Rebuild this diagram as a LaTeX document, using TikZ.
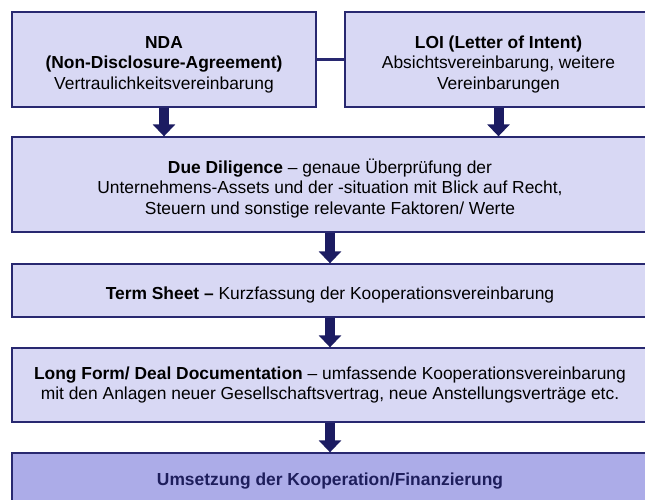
\documentclass[tikz,border=0pt]{standalone}
\usepackage{fontspec}
\setmainfont{Liberation Sans}
\usepackage{xcolor}
\usepackage{tikz}
\usetikzlibrary{arrows.meta}

\definecolor{kasten}{RGB}{216,216,244}
\definecolor{kastenende}{RGB}{172,172,232}
\definecolor{rand}{RGB}{40,40,112}
\definecolor{pfeil}{RGB}{28,28,98}
\definecolor{schrift}{RGB}{30,30,92}

% Stuetze fuer die erste Zeile
\newcommand{\hoch}{\rule{0pt}{22bp}}

\begin{document}
\begin{tikzpicture}[x=1bp,y=-1bp,
		box/.style={draw=rand,line width=1.3bp,fill=kasten,align=center,inner sep=0pt,
			font=\fontsize{17.4bp}{20.5bp}\selectfont},
		schritt/.style={draw=pfeil,line width=10bp,-{Triangle[width=22bp,length=12bp]}}]
		% Rahmen
		\clip (0,0) rectangle (645,500);
		\fill[white] (0,0) rectangle (645,500);

		% Kaesten
		\node[box,minimum width=304bp,minimum height=95bp] (nda) at (164,59.5)
			{\hoch\textbf{NDA}\\\textbf{(Non-Disclosure-Agreement)}\\Vertraulichkeitsvereinbarung};
		\node[box,minimum width=307bp,minimum height=95bp] (loi) at (498.5,59.5)
			{\hoch\textbf{LOI (Letter of Intent)}\\Absichtsvereinbarung, weitere\\Vereinbarungen};
		\node[box,minimum width=636bp,minimum height=95bp] (dd) at (330,184.5)
			{\hoch\textbf{Due Diligence} -- genaue Überprüfung der\\Unternehmens-Assets und der -situation mit Blick auf Recht,\\Steuern und sonstige relevante Faktoren/ Werte};
		\node[box,minimum width=636bp,minimum height=53bp] (ts) at (330,290.5)
			{\hoch\textbf{Term Sheet --} Kurzfassung der Kooperationsvereinbarung};
		\node[box,minimum width=636bp,minimum height=74bp] (lf) at (330,385)
			{\textbf{Long Form/ Deal Documentation} -- umfassende Kooperationsvereinbarung\\mit den Anlagen neuer Gesellschaftsvertrag, neue Anstellungsverträge etc.};
		\node[box,fill=kastenende,text=schrift,minimum width=636bp,minimum height=57bp] (um) at (330,481.5)
			{\textbf{Umsetzung der Kooperation/Finanzierung}};

		% Linien
		\draw[rand,line width=2.5bp] (nda.east) -- (loi.west);

		% Pfeile
		\draw[schritt] (nda.south) -- (nda.south |- dd.north);
		\draw[schritt] (loi.south) -- (loi.south |- dd.north);
		\draw[schritt] (dd.south) -- (ts.north);
		\draw[schritt] (ts.south) -- (lf.north);
		\draw[schritt] (lf.south) -- (um.north);
	\end{tikzpicture}
\end{document}
